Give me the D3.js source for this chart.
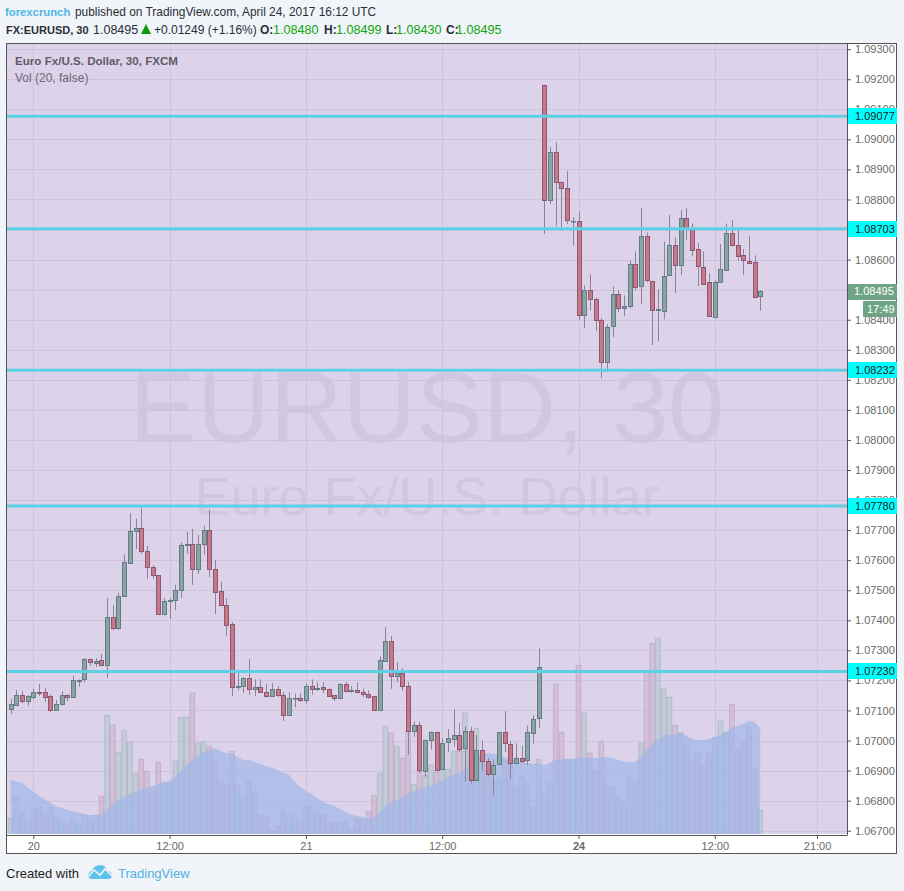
<!DOCTYPE html>
<html>
<head>
<meta charset="utf-8">
<script src="https://d3js.org/d3.v7.min.js"></script>
<style>
  html, body { margin: 0; padding: 0; background: #f1f4f8; }
  svg { display: block; }
  .head { font-family: "Liberation Sans", Arial, sans-serif; font-size: 12px; fill: #2a2e39; }
  .axis text { font-family: "Liberation Sans", Arial, sans-serif; font-size: 11px; fill: #6a6a6a; }
  .axis path { display: none; }
  .axis line { stroke: #555; }
</style>
</head>
<body>
<div id="chart"></div>
<script>
// bars are 30 minutes apart, index 0 is the "20" tick
var firstBar = -4;

var open = [
  1.07102, 1.07120, 1.07153, 1.07132, 1.07145, 1.07163, 1.07160, 1.07147, 1.07099, 1.07120,
  1.07150, 1.07143, 1.07200, 1.07202, 1.07270, 1.07260, 1.07267, 1.07249, 1.07410, 1.07375,
  1.07480, 1.07592, 1.07697, 1.07707, 1.07630, 1.07577, 1.07550, 1.07419, 1.07463, 1.07466,
  1.07499, 1.07650, 1.07653, 1.07569, 1.07653, 1.07700, 1.07570, 1.07497, 1.07450, 1.07387,
  1.07179, 1.07182, 1.07207, 1.07172, 1.07177, 1.07163, 1.07149, 1.07173, 1.07153, 1.07085,
  1.07143, 1.07143, 1.07137, 1.07183, 1.07172, 1.07177, 1.07173, 1.07150, 1.07139, 1.07187,
  1.07163, 1.07167, 1.07160, 1.07155, 1.07147, 1.07102, 1.07265, 1.07330, 1.07212, 1.07223,
  1.07180, 1.07030, 1.07050, 1.06899, 1.07002, 1.07030, 1.06905, 1.06993, 1.07007, 1.07020,
  1.06975, 1.07033, 1.06869, 1.06970, 1.06933, 1.06889, 1.06920, 1.07027, 1.06990, 1.06927,
  1.06943, 1.06933, 1.07027, 1.07073,
  1.09180, 1.08797, 1.08957, 1.08857, 1.08837, 1.08730,
  1.08730, 1.08416, 1.08500, 1.08470, 1.08400, 1.08259, 1.08376, 1.08484, 1.08437, 1.08443,
  1.08584, 1.08509, 1.08677, 1.08530, 1.08432, 1.08432, 1.08546, 1.08647, 1.08579, 1.08737,
  1.08704, 1.08634, 1.08577, 1.08524, 1.08412, 1.08526, 1.08568, 1.08690, 1.08650, 1.08614,
  1.08597, 1.08593, 1.08480
];

var close = [
  1.07120, 1.07153, 1.07132, 1.07148, 1.07163, 1.07159, 1.07145, 1.07099, 1.07120, 1.07150,
  1.07142, 1.07200, 1.07202, 1.07270, 1.07260, 1.07265, 1.07249, 1.07410, 1.07375, 1.07480,
  1.07593, 1.07697, 1.07707, 1.07629, 1.07577, 1.07549, 1.07419, 1.07463, 1.07467, 1.07500,
  1.07650, 1.07653, 1.07569, 1.07653, 1.07700, 1.07569, 1.07495, 1.07449, 1.07385, 1.07179,
  1.07183, 1.07207, 1.07172, 1.07177, 1.07162, 1.07149, 1.07173, 1.07152, 1.07085, 1.07143,
  1.07143, 1.07135, 1.07183, 1.07172, 1.07175, 1.07172, 1.07150, 1.07139, 1.07187, 1.07163,
  1.07167, 1.07159, 1.07155, 1.07145, 1.07102, 1.07267, 1.07330, 1.07213, 1.07223, 1.07180,
  1.07030, 1.07050, 1.06899, 1.07003, 1.07030, 1.06905, 1.06993, 1.07007, 1.07020, 1.06975,
  1.07033, 1.06869, 1.06970, 1.06933, 1.06889, 1.06920, 1.07027, 1.06990, 1.06927, 1.06943,
  1.06933, 1.07027, 1.07073, 1.07243,
  1.08797, 1.08957, 1.08857, 1.08837, 1.08730, 1.08730,
  1.08416, 1.08500, 1.08470, 1.08399, 1.08259, 1.08377, 1.08484, 1.08437, 1.08444, 1.08584,
  1.08509, 1.08677, 1.08529, 1.08432, 1.08434, 1.08547, 1.08647, 1.08579, 1.08737, 1.08704,
  1.08632, 1.08576, 1.08522, 1.08412, 1.08527, 1.08570, 1.08690, 1.08649, 1.08612, 1.08596,
  1.08592, 1.08476, 1.08495
];

var high = [
  1.07138, 1.07168, 1.07164, 1.07151, 1.07173, 1.07188, 1.07175, 1.07153, 1.07134, 1.07164,
  1.07153, 1.07217, 1.07203, 1.07274, 1.07273, 1.07274, 1.07288, 1.07474, 1.07451, 1.07493,
  1.07620, 1.07757, 1.07738, 1.07774, 1.07648, 1.07584, 1.07550, 1.07474, 1.07473, 1.07518,
  1.07659, 1.07694, 1.07704, 1.07684, 1.07714, 1.07768, 1.07601, 1.07528, 1.07474, 1.07394,
  1.07224, 1.07211, 1.07271, 1.07204, 1.07204, 1.07188, 1.07191, 1.07181, 1.07161, 1.07161,
  1.07157, 1.07157, 1.07190, 1.07203, 1.07194, 1.07194, 1.07173, 1.07150, 1.07190, 1.07194,
  1.07181, 1.07194, 1.07173, 1.07167, 1.07147, 1.07280, 1.07377, 1.07348, 1.07261, 1.07240,
  1.07195, 1.07063, 1.07063, 1.07003, 1.07030, 1.07030, 1.07008, 1.07038, 1.07104, 1.07058,
  1.07048, 1.07045, 1.07018, 1.07000, 1.06942, 1.06934, 1.07027, 1.07098, 1.06998, 1.06991,
  1.06983, 1.07050, 1.07083, 1.07307,
  1.09180, 1.08974, 1.08991, 1.08860, 1.08894, 1.08741,
  1.08761, 1.08515, 1.08551, 1.08474, 1.08405, 1.08385, 1.08511, 1.08498, 1.08481, 1.08597,
  1.08627, 1.08771, 1.08690, 1.08530, 1.08501, 1.08660, 1.08748, 1.08674, 1.08765, 1.08771,
  1.08721, 1.08655, 1.08628, 1.08555, 1.08531, 1.08651, 1.08720, 1.08731, 1.08698, 1.08635,
  1.08678, 1.08614, 1.08499
];

var low = [
  1.07089, 1.07114, 1.07125, 1.07115, 1.07137, 1.07148, 1.07129, 1.07094, 1.07099, 1.07117,
  1.07131, 1.07143, 1.07179, 1.07194, 1.07248, 1.07245, 1.07249, 1.07209, 1.07368, 1.07368,
  1.07480, 1.07588, 1.07637, 1.07621, 1.07538, 1.07538, 1.07419, 1.07419, 1.07404, 1.07434,
  1.07474, 1.07621, 1.07518, 1.07554, 1.07618, 1.07544, 1.07421, 1.07449, 1.07348, 1.07148,
  1.07168, 1.07158, 1.07151, 1.07148, 1.07162, 1.07144, 1.07145, 1.07145, 1.07065, 1.07085,
  1.07110, 1.07129, 1.07123, 1.07152, 1.07165, 1.07159, 1.07148, 1.07131, 1.07139, 1.07161,
  1.07159, 1.07159, 1.07145, 1.07139, 1.07099, 1.07102, 1.07265, 1.07172, 1.07194, 1.07165,
  1.06952, 1.07012, 1.06892, 1.06879, 1.06970, 1.06903, 1.06903, 1.06962, 1.06979, 1.06962,
  1.06864, 1.06857, 1.06865, 1.06901, 1.06881, 1.06819, 1.06920, 1.06961, 1.06872, 1.06923,
  1.06925, 1.06919, 1.06989, 1.07042,
  1.08686, 1.08785, 1.08712, 1.08696, 1.08719, 1.08646,
  1.08399, 1.08372, 1.08431, 1.08362, 1.08206, 1.08232, 1.08342, 1.08425, 1.08411, 1.08438,
  1.08498, 1.08451, 1.08525, 1.08315, 1.08328, 1.08401, 1.08546, 1.08489, 1.08548, 1.08665,
  1.08612, 1.08512, 1.08522, 1.08409, 1.08412, 1.08526, 1.08565, 1.08649, 1.08595, 1.08548,
  1.08588, 1.08471, 1.08430
];

var volume = [
  47, 113, 65, 38, 71, 80, 62, 80, 50, 38,
  29, 44, 29, 56, 44, 56, 113, 356, 326, 245,
  311, 275, 182, 224, 188, 128, 215, 155, 155, 221,
  350, 350, 422, 272, 275, 262, 224, 158, 149, 248,
  143, 104, 158, 119, 56, 50, 11, 23, 68, 53,
  56, 38, 86, 80, 68, 56, 35, 35, 35, 41,
  17, 44, 44, 68, 116, 182, 323, 302, 263, 227,
  308, 149, 190, 176, 206, 185, 194, 194, 248, 250,
  362, 252, 317, 227, 173, 158, 167, 221, 210, 140,
  173, 155, 80, 224,
  116, 155, 449, 305, 224, 224,
  506, 362, 242, 188, 278, 143, 143, 110, 89, 167,
  155, 272, 485, 572, 587, 434, 410, 326, 305, 269,
  221, 245, 203, 245, 290, 338, 305, 389, 254, 275,
  320, 197, 71
];

// Vol (20) average
var volumeAvg = [
  162, 158, 154, 140, 127, 115, 104, 94, 84, 78,
  72, 68, 65, 60, 56, 57, 58, 74, 92, 103,
  112, 119, 126, 133, 139, 144, 149, 154, 158, 172,
  190, 207, 222, 234, 245, 253, 258, 249, 243, 241,
  231, 222, 222, 216, 210, 204, 199, 192, 183, 178,
  157, 142, 129, 120, 108, 97, 90, 84, 75, 67,
  58, 54, 51, 48, 52, 65, 84, 94, 102, 110,
  124, 127, 135, 140, 145, 153, 162, 172, 178, 184,
  192, 217, 237, 240, 242, 241, 239, 229, 225, 220,
  217, 213, 211, 212,
  207, 214, 224, 224, 224, 224,
  231, 229, 228, 227, 229, 231, 228, 222, 217, 216,
  217, 232, 252, 272, 285, 297, 298, 299, 302, 295,
  285, 281, 282, 285, 290, 296, 306, 319, 325, 331,
  340, 336, 317
];

var priceTicks = [
  1.093, 1.092, 1.091, 1.09, 1.089, 1.088, 1.087, 1.086, 1.085, 1.084, 1.083, 1.082, 1.081,
  1.08, 1.079, 1.078, 1.077, 1.076, 1.075, 1.074, 1.073, 1.072, 1.071, 1.07, 1.069, 1.068, 1.067
];
var levels = [1.09077, 1.08703, 1.08232, 1.0778, 1.0723];
var lastPrice = 1.08495;

var timeTicks = [0, 24, 48, 72, 96, 120, 138];
var timeLabels = ["20", "12:00", "21", "12:00", "24", "12:00", "21:00"];

var width = 904, height = 891;
var plotLeft = 7, plotRight = 847, plotTop = 44, plotBottom = 834;

var bars = open.map(function (d, i) {
  return { i: i + firstBar, open: d, close: close[i], high: high[i], low: low[i], vol: volume[i], avg: volumeAvg[i] };
});

var x = d3.scaleLinear().domain([0, 24]).range([33.3, 169.6]);
var y = d3.scaleLinear().domain([1.093, 1.067]).range([49.2, 830.7]);
var v = d3.scaleLinear().domain([0, 900]).range([plotBottom, plotBottom - 300]);

var svg = d3.select("#chart").append("svg")
  .attr("width", width)
  .attr("height", height);

svg.append("defs").append("clipPath").attr("id", "plot")
  .append("rect")
  .attr("x", plotLeft).attr("y", plotTop)
  .attr("width", plotRight - plotLeft).attr("height", plotBottom - plotTop);

// frame
svg.append("rect")
  .attr("x", 6.5).attr("y", 43.5)
  .attr("width", 890).attr("height", 810)
  .attr("fill", "#fff")
  .attr("stroke", "#555");

svg.append("rect")
  .attr("x", plotLeft).attr("y", plotTop)
  .attr("width", plotRight - plotLeft).attr("height", plotBottom - plotTop)
  .attr("fill", "#dcd3ea");

var plot = svg.append("g").attr("clip-path", "url(#plot)");

// watermark
plot.append("text")
  .attr("x", 427).attr("y", 442)
  .attr("text-anchor", "middle")
  .attr("font-family", "Liberation Sans, Arial, sans-serif")
  .attr("font-size", 101)
  .attr("fill", "#d1c7df")
  .text("EURUSD, 30");

plot.append("text")
  .attr("x", 427).attr("y", 515)
  .attr("text-anchor", "middle")
  .attr("font-family", "Liberation Sans, Arial, sans-serif")
  .attr("font-size", 54)
  .attr("fill", "#d1c7df")
  .text("Euro Fx/U.S. Dollar");

// grid
plot.selectAll(".hgrid").data(priceTicks).enter().append("line")
  .attr("x1", plotLeft).attr("x2", plotRight)
  .attr("y1", d => Math.round(y(d)) + 0.5).attr("y2", d => Math.round(y(d)) + 0.5)
  .attr("stroke", "#cdc4dc");

plot.selectAll(".vgrid").data(timeTicks).enter().append("line")
  .attr("y1", plotTop).attr("y2", plotBottom)
  .attr("x1", d => Math.round(x(d)) + 0.5).attr("x2", d => Math.round(x(d)) + 0.5)
  .attr("stroke", "#cdc4dc");

// volume
plot.selectAll(".vol").data(bars).enter().append("rect")
  .attr("x", d => x(d.i) - 2.34)
  .attr("width", 4.68)
  .attr("y", d => v(d.vol))
  .attr("height", d => plotBottom - v(d.vol))
  .attr("fill", d => d.close >= d.open ? "#bbc8d0" : "#ceb7ce")
  .attr("fill-opacity", 0.7)
  .attr("stroke", d => d.close >= d.open ? "#aab8c4" : "#c0a9c6")
  .attr("stroke-opacity", 0.8);

var area = d3.area()
  .x(d => x(d.i))
  .y0(plotBottom)
  .y1(d => v(d.avg));

plot.append("path")
  .datum(bars)
  .attr("d", area)
  .attr("fill", "#9fb6e8")
  .attr("fill-opacity", 0.7);

// candles
plot.selectAll(".wick").data(bars).enter().append("line")
  .attr("x1", d => Math.round(x(d.i)) + 0.5)
  .attr("x2", d => Math.round(x(d.i)) + 0.5)
  .attr("y1", d => y(d.high))
  .attr("y2", d => y(d.low))
  .attr("stroke", "#8b8499");

plot.selectAll(".body").data(bars).enter().append("rect")
  .attr("x", d => Math.round(x(d.i)) - 1.5)
  .attr("width", 4)
  .attr("y", d => Math.round(y(Math.max(d.open, d.close))) + 0.5)
  .attr("height", d => Math.max(0.5, Math.round(Math.abs(y(d.open) - y(d.close)))))
  .attr("fill", d => d.close >= d.open ? "#8ca3a6" : "#c57a8b")
  .attr("stroke", d => d.close >= d.open ? "#5f7d83" : "#8f566f");

// levels
plot.selectAll(".level").data(levels).enter().append("line")
  .attr("x1", plotLeft).attr("x2", plotRight)
  .attr("y1", d => y(d)).attr("y2", d => y(d))
  .attr("stroke", "#5bd0e6")
  .attr("stroke-width", 3);

// axes
var yAxis = d3.axisRight(y)
  .tickValues(priceTicks)
  .tickSize(4)
  .tickPadding(4)
  .tickFormat(d3.format(".5f"));

svg.append("g")
  .attr("class", "axis")
  .attr("transform", `translate(${plotRight}, 0)`)
  .call(yAxis);

var xAxis = d3.axisBottom(x)
  .tickValues(timeTicks)
  .tickSize(4)
  .tickPadding(3)
  .tickFormat(function (d, i) { return timeLabels[i]; });

var xAxisGroup = svg.append("g")
  .attr("class", "axis")
  .attr("transform", `translate(0, ${plotBottom + 1})`)
  .call(xAxis);

xAxisGroup.selectAll("text")
  .style("font-weight", (d, i) => timeLabels[i] == "24" ? "bold" : null);

svg.append("line")
  .attr("x1", plotRight + 0.5).attr("x2", plotRight + 0.5)
  .attr("y1", plotTop).attr("y2", plotBottom + 1.5)
  .attr("stroke", "#555");

svg.append("line")
  .attr("x1", plotLeft).attr("x2", plotRight)
  .attr("y1", plotBottom + 1.5).attr("y2", plotBottom + 1.5)
  .attr("stroke", "#555");

// price tags
var tags = svg.selectAll(".tag").data(levels).enter().append("g")
  .attr("transform", d => `translate(848, ${Math.round(y(d))})`);

tags.append("rect")
  .attr("x", 0).attr("y", -8).attr("width", 49).attr("height", 16)
  .attr("fill", "#00ffff");

tags.append("text")
  .attr("x", 7).attr("y", 4)
  .attr("font-family", "Liberation Sans, Arial, sans-serif")
  .attr("font-size", 11)
  .attr("fill", "#222")
  .text(d => d3.format(".5f")(d));

svg.append("rect")
  .attr("x", 848).attr("y", 284)
  .attr("width", 49).attr("height", 16)
  .attr("fill", "#6fa584");

svg.append("text")
  .attr("x", 854).attr("y", y(lastPrice) + 4)
  .attr("font-family", "Liberation Sans, Arial, sans-serif")
  .attr("font-size", 11)
  .attr("fill", "#fff")
  .text(d3.format(".5f")(lastPrice));

svg.append("rect")
  .attr("x", 863).attr("y", 301)
  .attr("width", 34).attr("height", 16)
  .attr("fill", "#6fa584");

svg.append("text")
  .attr("x", 867).attr("y", 313)
  .attr("font-family", "Liberation Sans, Arial, sans-serif")
  .attr("font-size", 11)
  .attr("fill", "#fff")
  .text("17:49");

// legend inside the plot
svg.append("text")
  .attr("x", 15).attr("y", 65)
  .attr("font-family", "Liberation Sans, Arial, sans-serif")
  .attr("font-size", 11.6)
  .attr("font-weight", 700)
  .attr("fill", "#5f5a66")
  .text("Euro Fx/U.S. Dollar, 30, FXCM");

svg.append("text")
  .attr("x", 15).attr("y", 82)
  .attr("font-family", "Liberation Sans, Arial, sans-serif")
  .attr("font-size", 12)
  .attr("fill", "#6b6672")
  .text("Vol (20, false)");

// header
svg.append("text").attr("class", "head").attr("x", 5).attr("y", 16)
  .style("fill", "#4fb6e6").style("font-size", "11.3px")
  .attr("font-weight", 700).text("forexcrunch");
svg.append("text").attr("class", "head").attr("x", 75).attr("y", 16)
  .style("font-size", "11.9px")
  .text("published on TradingView.com, April 24, 2017 16:12 UTC");

var green = "#0ea50e";
svg.append("text").attr("class", "head").attr("x", 6).attr("y", 34)
  .style("font-size", "11px")
  .attr("font-weight", 700).text("FX:EURUSD, 30");
svg.append("text").attr("class", "head").attr("x", 93).attr("y", 34)
  .style("font-size", "12.5px").text("1.08495");

svg.append("path")
  .attr("d", "M146,24 L151,34 L141,34 Z")
  .attr("fill", "#0a9a0a");

svg.append("text").attr("class", "head").attr("x", 154).attr("y", 34)
  .style("font-size", "12px").text("+0.01249 (+1.16%)");

var ohlcLabels = ["O:", "H:", "L:", "C:"];
var ohlcValues = ["1.08480", "1.08499", "1.08430", "1.08495"];
var ohlcLabelX = [260, 324, 386, 446];
var ohlcValueX = [273, 336, 396, 456];
ohlcLabels.forEach(function (d, i) {
  svg.append("text").attr("class", "head").attr("x", ohlcLabelX[i]).attr("y", 34)
    .attr("font-weight", 700).text(d);
  svg.append("text").attr("class", "head").attr("x", ohlcValueX[i]).attr("y", 34)
    .style("fill", green).style("font-size", "12.6px").text(ohlcValues[i]);
});

// footer
svg.append("text")
  .attr("x", 6).attr("y", 878)
  .attr("font-family", "Liberation Sans, Arial, sans-serif")
  .attr("font-size", 13)
  .attr("fill", "#222")
  .text("Created with");

svg.append("path")
  .attr("d", "M88,876 C88,873 90,871 92,871 C93,867 97,865 100,865 C104,865 107,868 107,871 C110,871 112,873 112,876 C112,878 110,879 108,879 L92,879 C90,879 88,878 88,876 Z")
  .attr("fill", "#5cc4ea");

svg.append("path")
  .attr("d", "M88,877 L94,870 L100,875 L105,869 L112,876")
  .attr("fill", "none")
  .attr("stroke", "#f1f4f8")
  .attr("stroke-width", 1.6);

svg.append("text")
  .attr("x", 118).attr("y", 878)
  .attr("font-family", "Liberation Sans, Arial, sans-serif")
  .attr("font-size", 13)
  .attr("fill", "#4fb0e4")
  .text("TradingView");
</script>
</body>
</html>
